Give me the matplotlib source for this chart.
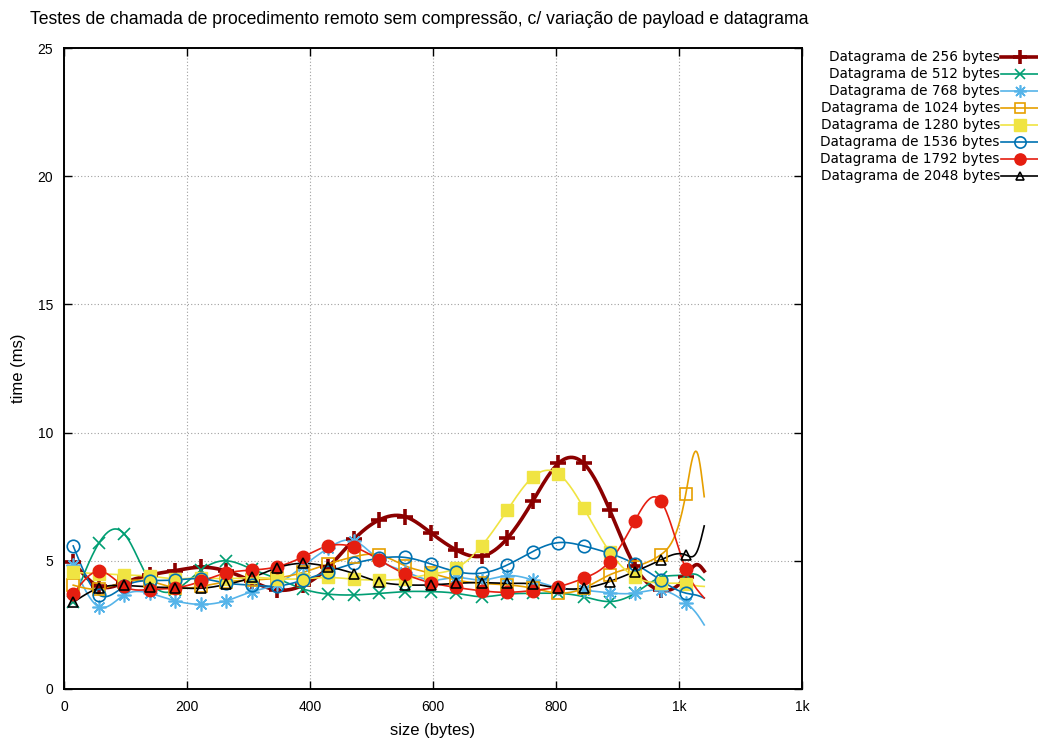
import numpy as np
import matplotlib
matplotlib.use("Agg")
import matplotlib.pyplot as plt
from matplotlib.lines import Line2D

# payload sizes (bytes); the last two points carry no marker in the original
sizes = [15, 57, 98, 140, 181, 223, 264, 306, 347, 389, 430, 472, 513,
         555, 596, 638, 679, 721, 762, 804, 845, 887, 928, 970, 1011, 1030, 1041]
n_marked = 25

labels = ["Datagrama de 256 bytes", "Datagrama de 512 bytes", "Datagrama de 768 bytes",
          "Datagrama de 1024 bytes", "Datagrama de 1280 bytes", "Datagrama de 1536 bytes",
          "Datagrama de 1792 bytes", "Datagrama de 2048 bytes"]

# time (ms)
d256 = [4.95, 4.0, 4.15, 4.45, 4.62, 4.75, 4.6, 4.2, 3.86, 4.05, 4.75, 5.85, 6.6,
        6.72, 6.1, 5.42, 5.18, 5.88, 7.32, 8.8, 8.8, 7.0, 4.8, 3.85, 4.38, 4.85, 4.6]
d512 = [3.4, 5.7, 6.05, 4.2, 3.86, 4.64, 5.0, 4.67, 4.3, 3.9, 3.7, 3.67, 3.73,
        3.8, 3.8, 3.73, 3.6, 3.7, 3.73, 3.73, 3.6, 3.41, 3.73, 4.35, 4.45, 4.45, 4.25]
d768 = [4.85, 3.2, 3.67, 3.73, 3.44, 3.3, 3.44, 3.8, 4.1, 4.8, 5.5, 5.78, 5.03,
        4.58, 4.25, 4.35, 4.25, 4.42, 4.25, 3.95, 3.85, 3.75, 3.74, 3.86, 3.37, 2.9, 2.5]
d1024 = [4.05, 3.9, 4.18, 4.2, 3.95, 4.0, 4.18, 4.25, 4.33, 4.55, 4.88, 5.16, 5.23,
         4.8, 4.52, 4.25, 4.12, 4.06, 3.93, 3.74, 3.93, 4.45, 4.77, 5.23, 7.6, 9.2, 7.5]
d1280 = [4.55, 4.5, 4.45, 4.4, 4.3, 4.33, 4.3, 4.35, 4.3, 4.3, 4.35, 4.28, 4.25,
         4.3, 4.48, 4.72, 5.58, 6.98, 8.26, 8.39, 7.06, 5.36, 4.38, 4.13, 4.1, 4.02, 4.0]
d1536 = [5.58, 3.67, 4.0, 4.23, 4.25, 4.3, 4.13, 4.05, 4.02, 4.25, 4.58, 4.9, 5.1,
         5.13, 4.88, 4.58, 4.52, 4.84, 5.36, 5.71, 5.58, 5.29, 4.88, 4.25, 3.74, 3.65, 3.55]
d1792 = [3.7, 4.6, 4.0, 3.88, 3.94, 4.2, 4.52, 4.64, 4.77, 5.16, 5.58, 5.53, 5.03,
         4.48, 4.15, 3.96, 3.83, 3.77, 3.84, 3.99, 4.32, 4.97, 6.55, 7.35, 4.68, 3.86, 3.55]
d2048 = [3.38, 3.94, 4.04, 3.98, 3.95, 3.93, 4.08, 4.35, 4.73, 4.9, 4.77, 4.5, 4.18,
         4.06, 4.06, 4.12, 4.15, 4.12, 4.1, 3.93, 3.93, 4.19, 4.58, 5.03, 5.23, 5.4, 6.36]

xticks = [0, 200, 400, 600, 800, 1000, 1200]
xticklabels = ["0", "200", "400", "600", "800", "1k", "1k"]
yticks = [0, 5, 10, 15, 20, 25]

data = [d256, d512, d768, d1024, d1280, d1536, d1792, d2048]
colors = ["#8b0000", "#009e73", "#56b4e9", "#e69f00", "#f0e442", "#0072b2", "#e51e10", "#000000"]
styles = [
    dict(marker="+", ms=11, mew=2.6, lw=2.6),
    dict(marker="x", ms=8, mew=1.2, lw=1.2),
    dict(marker=(8, 2, 0), ms=10, mew=1.2, lw=1.2),
    dict(marker="s", ms=8, mew=1.2, lw=1.2, mfc="none"),
    dict(marker="s", ms=9, mew=1.0, lw=1.2),
    dict(marker="o", ms=9, mew=1.2, lw=1.2, mfc="none"),
    dict(marker="o", ms=9, mew=1.0, lw=1.2),
    dict(marker="^", ms=7, mew=1.2, lw=1.2, mfc="none"),
]


def csplines(x, y, n=600):
    # natural cubic spline, like gnuplot "smooth csplines"
    x = np.asarray(x, float)
    y = np.asarray(y, float)
    h = np.diff(x)
    m = len(x)
    A = np.zeros((m, m))
    b = np.zeros(m)
    A[0, 0] = A[-1, -1] = 1
    for i in range(1, m - 1):
        A[i, i - 1] = h[i - 1]
        A[i, i] = 2 * (h[i - 1] + h[i])
        A[i, i + 1] = h[i]
        b[i] = 6 * ((y[i + 1] - y[i]) / h[i] - (y[i] - y[i - 1]) / h[i - 1])
    M = np.linalg.solve(A, b)
    xs = np.linspace(x[0], x[-1], n)
    k = np.clip(np.searchsorted(x, xs) - 1, 0, m - 2)
    t0 = x[k + 1] - xs
    t1 = xs - x[k]
    hk = h[k]
    ys = (M[k] * t0 ** 3 + M[k + 1] * t1 ** 3) / (6 * hk) \
        + (y[k] / hk - M[k] * hk / 6) * t0 + (y[k + 1] / hk - M[k + 1] * hk / 6) * t1
    return xs, ys


sans = ["Liberation Sans", "DejaVu Sans"]

fig = plt.figure(figsize=(10.38, 7.40), dpi=100)
ax = fig.add_axes([64 / 1038, 1 - 689 / 740, 738 / 1038, 641 / 740])

for vals, col, st in zip(data, colors, styles):
    xs, ys = csplines(sizes, vals)
    ax.plot(xs, ys, color=col, lw=st["lw"], zorder=2)
    ax.plot(sizes[:n_marked], vals[:n_marked], linestyle="none", color=col,
            marker=st["marker"], ms=st["ms"], mew=st["mew"],
            mfc=st.get("mfc", col), mec=col, zorder=3)

ax.set_xlim(0, 1200)
ax.set_ylim(0, 25)
ax.set_xticks(xticks)
ax.set_xticklabels(xticklabels)
ax.set_yticks(yticks)
ax.grid(True, color="#a0a0a0", linestyle=(0, (1, 2)), lw=0.8)
ax.tick_params(direction="in", length=6, width=1, top=True, right=True,
               labelsize=10, pad=8)
for t in ax.get_xticklabels() + ax.get_yticklabels():
    t.set_family(sans)
for s in ax.spines.values():
    s.set_linewidth(1.4)

ax.set_xlabel("size (bytes)", family=sans, fontsize=12, va="center")
ax.xaxis.set_label_coords(0.5, -(731 - 689) / 641)
ax.set_ylabel("time (ms)", family=sans, fontsize=12, va="center")
ax.yaxis.set_label_coords(-(64 - 18) / 738, 0.5)

fig.text(30 / 1038, 1 - 20 / 740,
         "Testes de chamada de procedimento remoto sem compressão, c/ variação de payload e datagrama",
         family=sans, fontsize=12.7, ha="left", va="center")

# key on the right, text right-justified with the sample after it
for i, (lab, col, st) in enumerate(zip(labels, colors, styles)):
    yy = 1 - (57 + 17 * i) / 740
    fig.text(1000 / 1038, yy, lab, ha="right", va="center", fontsize=9.8, family="DejaVu Sans")
    fig.add_artist(Line2D([1001 / 1038, 1.0], [yy, yy], color=col, lw=st["lw"],
                          transform=fig.transFigure))
    fig.add_artist(Line2D([1020 / 1038], [yy], color=col, marker=st["marker"],
                          ms=st["ms"] * 0.9, mew=st["mew"], mfc=st.get("mfc", col), mec=col,
                          transform=fig.transFigure))

fig.savefig("out.png", dpi=100)
